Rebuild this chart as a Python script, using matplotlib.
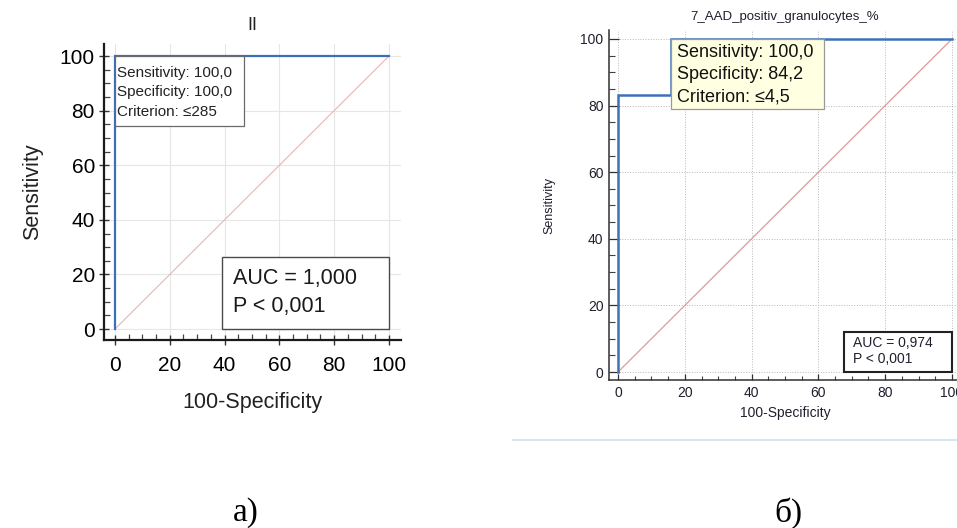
import numpy as np
import matplotlib.pyplot as plt
from matplotlib.patches import Rectangle
from matplotlib.ticker import MultipleLocator

plt.rcParams['font.family'] = ['Liberation Sans', 'DejaVu Sans']

# ROC curves (100-Specificity vs Sensitivity, %)
roc_a_fpr = [0, 0, 100]
roc_a_tpr = [0, 100, 100]
roc_b_fpr = [0, 0, 15.8, 15.8, 100]
roc_b_tpr = [0, 83.3, 83.3, 100, 100]

title_a = "II"
title_b = "7_AAD_positiv_granulocytes_%"
info_a = ["Sensitivity: 100,0", "Specificity: 100,0", "Criterion: \u2264285"]
info_b = ["Sensitivity: 100,0", "Specificity: 84,2", "Criterion: \u22644,5"]
auc_a = ["AUC = 1,000", "P < 0,001"]
auc_b = ["AUC = 0,974", "P < 0,001"]
ticks = [0, 20, 40, 60, 80, 100]

W, H = 957, 528
fig = plt.figure(figsize=(W / 100, H / 100), dpi=100)


def px_axes(left, top, right, bottom):
    return fig.add_axes([left / W, 1 - bottom / H, (right - left) / W, (bottom - top) / H])


# ---------------------------------------------------------------------------
# Panel a
# ---------------------------------------------------------------------------
ax = px_axes(104, 44, 401, 340)
ax.set_xlim(-4, 104.4)
ax.set_ylim(-4, 104.4)
for s in ['top', 'right']:
    ax.spines[s].set_visible(False)
for s in ['left', 'bottom']:
    ax.spines[s].set_linewidth(1.6)
    ax.spines[s].set_color('#1a1a1a')
ax.set_xticks(ticks)
ax.set_yticks(ticks)
ax.xaxis.set_minor_locator(MultipleLocator(5))
ax.yaxis.set_minor_locator(MultipleLocator(5))
ax.tick_params(which='major', direction='inout', length=7, width=1.0,
               labelsize=15, color='#333333')
ax.tick_params(axis='x', which='major', pad=8)
ax.tick_params(axis='y', which='major', pad=3)
ax.tick_params(which='minor', direction='in', length=4, width=0.9, color='#444444')
ax.grid(True, which='major', color='#e6e6e6', linewidth=0.8)
ax.set_axisbelow(True)

ax.plot([0, 100], [0, 100], color='#e8b4b4', linewidth=0.8, zorder=2)
ax.plot(roc_a_fpr, roc_a_tpr, color='#3b70b8', linewidth=1.6, zorder=3,
        solid_joinstyle='miter')

ax.add_patch(Rectangle((0, 74.4), 47, 25.6, facecolor='white',
                       edgecolor='#6a6a6a', linewidth=0.9, zorder=4))
for i, line in enumerate(info_a):
    ax.text(0.6, 93.9 - i * 7.2, line, fontsize=11, va='center', ha='left',
            color='#222222', zorder=5)

ax.add_patch(Rectangle((39, 0), 61, 26.4, facecolor='white',
                       edgecolor='#4a4a4a', linewidth=1.0, zorder=4))
for i, line in enumerate(auc_a):
    ax.text(43, 18.7 - i * 10.5, line, fontsize=15.5, va='center', ha='left',
            color='#1a1a1a', zorder=5)

ax.set_title(title_a, fontsize=13, pad=10, color='#222222')
ax.set_xlabel("100-Specificity", fontsize=15.5, labelpad=12, color='#222222')
ax.set_ylabel("Sensitivity", fontsize=15.5, labelpad=12, color='#222222')

# ---------------------------------------------------------------------------
# Panel b
# ---------------------------------------------------------------------------
bx = px_axes(609, 30, 962, 380)
bx.set_xlim(-2.7, 103)
bx.set_ylim(-2.4, 102.7)
for s in ['top', 'right']:
    bx.spines[s].set_visible(False)
for s in ['left', 'bottom']:
    bx.spines[s].set_linewidth(1.1)
    bx.spines[s].set_color('#303030')
bx.set_xticks(ticks)
bx.set_yticks(ticks)
bx.xaxis.set_minor_locator(MultipleLocator(5))
bx.yaxis.set_minor_locator(MultipleLocator(5))
bx.tick_params(which='major', direction='in', width=0.9, labelsize=10,
               labelcolor='#20202e', color='#303030', pad=4)
bx.tick_params(axis='y', which='major', length=7)
bx.tick_params(axis='x', which='major', length=4.5)
bx.tick_params(axis='y', which='minor', direction='in', length=4.5, width=0.8, color='#404040')
bx.tick_params(axis='x', which='minor', direction='in', length=3, width=0.8, color='#404040')
bx.grid(True, which='major', color='#b8b8b8', linewidth=0.7, linestyle=':')
bx.set_axisbelow(True)

bx.plot([0, 100], [0, 100], color='#e09a9a', linewidth=0.9, zorder=2)
bx.plot(roc_b_fpr, roc_b_tpr, color='#3d72b8', linewidth=1.8, zorder=3,
        solid_joinstyle='miter')

bx.add_patch(Rectangle((15.9, 79), 45.8, 21, facecolor='#ffffe1',
                       edgecolor='#999999', linewidth=0.9, zorder=4))
for i, line in enumerate(info_b):
    bx.text(17.7, 95.9 - i * 6.6, line, fontsize=13, va='center', ha='left',
            color='#111111', zorder=5)

bx.add_patch(Rectangle((67.7, 0), 32.3, 12, facecolor='white',
                       edgecolor='#222222', linewidth=1.5, zorder=4))
for i, line in enumerate(auc_b):
    bx.text(70.4, 8.7 - i * 4.8, line, fontsize=10, va='center', ha='left',
            color='#20202e', zorder=5)

fig.text(785 / W, 1 - 17 / H, title_b, fontsize=9.5, ha='center', va='center',
         color='#20202e')
bx.set_xlabel("100-Specificity", fontsize=10, labelpad=5, color='#20202e')
bx.set_ylabel("Sensitivity", fontsize=9, labelpad=18, color='#20202e')

# thin separator under panel b
fig.add_artist(plt.Line2D([513 / W, 1.0], [1 - 440 / H, 1 - 440 / H],
                          color='#cfe0f1', linewidth=1.2))

# panel captions
fig.text(246 / W, 1 - 513 / H, "\u0430)", fontsize=24, ha='center', va='center',
         family=['Liberation Serif', 'DejaVu Serif'])
fig.text(788 / W, 1 - 513 / H, "\u0431)", fontsize=24, ha='center', va='center',
         family=['Liberation Serif', 'DejaVu Serif'])

fig.savefig("out.png", dpi=100)
